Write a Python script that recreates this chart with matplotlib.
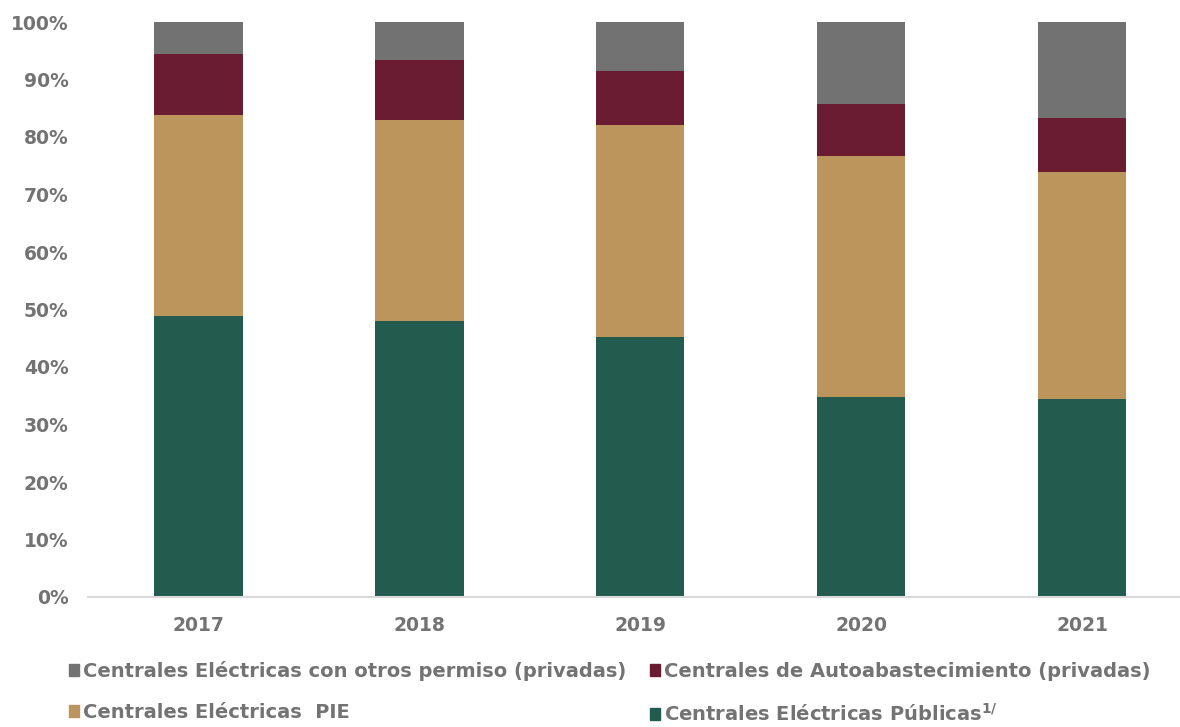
import matplotlib.pyplot as plt
import numpy as np
from matplotlib.patches import Patch
from matplotlib.ticker import FuncFormatter

# --------------------------------------------------
# data: share of generation by type of plant (%)
# --------------------------------------------------
years = ["2017", "2018", "2019", "2020", "2021"]

publicas = [48.9, 48.0, 45.2, 34.8, 34.5]
pie = [35.0, 35.0, 36.9, 41.9, 39.4]
autoabasto = [10.5, 10.4, 9.4, 9.1, 9.35]
otros = [5.6, 6.6, 8.5, 14.2, 16.75]

name_otros = "Centrales Eléctricas con otros permiso (privadas)"
name_auto = "Centrales de Autoabastecimiento (privadas)"
name_pie = "Centrales Eléctricas  PIE"
name_pub = r"Centrales Eléctricas Públicas$^{\mathregular{1/}}$"

C_GREEN = "#235B4E"
C_TAN = "#BC955C"
C_MAROON = "#691C32"
C_GRAY = "#717271"
C_TEXT = "#737373"

# --------------------------------------------------
# figure
# --------------------------------------------------
fig = plt.figure(figsize=(11.8, 7.27), dpi=100)
ax = fig.add_axes([88 / 1180, 1 - 597 / 727, 1092 / 1180, 575 / 727])

x = np.arange(len(years))
width = 0.4

stack = [(publicas, C_GREEN), (pie, C_TAN), (autoabasto, C_MAROON), (otros, C_GRAY)]
bottom = np.zeros(len(years))
for vals, col in stack:
    ax.bar(x, vals, width, bottom=bottom, color=col, edgecolor="none")
    bottom += np.array(vals)

ax.set_xlim(-0.5, (1180 - 198) / 221)
ax.set_ylim(0, 100)
ax.set_yticks(np.arange(0, 101, 10))
ax.yaxis.set_major_formatter(FuncFormatter(lambda v, _: f"{v:.0f}%"))
ax.set_xticks(x)
ax.set_xticklabels(years)

for side in ["top", "right", "left"]:
    ax.spines[side].set_visible(False)
ax.spines["bottom"].set_color("#D9D9D9")
ax.spines["bottom"].set_linewidth(1.5)

ax.tick_params(axis="both", length=0, labelsize=13.5, labelcolor=C_TEXT)
ax.tick_params(axis="x", pad=14)
ax.tick_params(axis="y", pad=14)
for lab in ax.get_xticklabels() + ax.get_yticklabels():
    lab.set_fontweight("bold")

# legend: two rows, filled column by column
handles = [
    Patch(color=C_GRAY),
    Patch(color=C_TAN),
    Patch(color=C_MAROON),
    Patch(color=C_GREEN),
]
labels = [name_otros, name_pie, name_auto, name_pub]
leg = fig.legend(
    handles, labels, ncol=2, loc="upper left",
    bbox_to_anchor=(55 / 1180, 1 - 647 / 727),
    frameon=False, handlelength=0.55, handleheight=0.6, handletextpad=0.2,
    columnspacing=1.2, labelspacing=1.15, borderpad=0.2,
    prop={"family": "DejaVu Sans", "weight": "bold", "size": 14},
)
for t in leg.get_texts():
    t.set_color(C_TEXT)

fig.savefig("out.png", dpi=100)
